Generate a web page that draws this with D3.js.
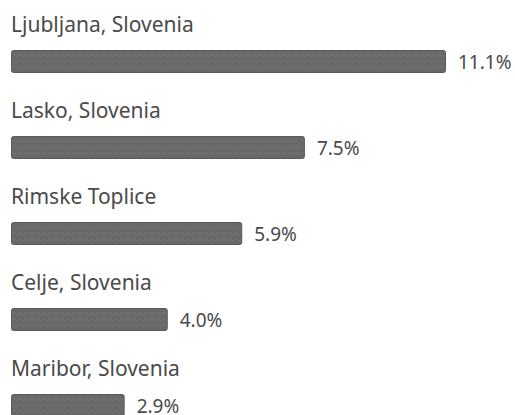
<!DOCTYPE html>
<html>
<head>
<meta charset="utf-8">
<script src="https://cdn.jsdelivr.net/npm/d3@7"></script>
<style>
  body { margin: 0; background: #fff; }
  svg { display: block; }
</style>
</head>
<body>
<svg id="chart"></svg>
<script>
// Data
const cities = ["Ljubljana, Slovenia", "Lasko, Slovenia", "Rimske Toplice", "Celje, Slovenia", "Maribor, Slovenia"];
const shares = [11.1, 7.5, 5.9, 4.0, 2.9];
const valueLabels = ["11.1%", "7.5%", "5.9%", "4.0%", "2.9%"];

const width = 515, height = 415;
const margin = { left: 11, top: 0 };
const rowStep = 86;

const svg = d3.select("#chart").attr("width", width).attr("height", height);

// subtle texture like the scanned bars
const pat = svg.append("defs").append("pattern")
  .attr("id", "tex")
  .attr("patternUnits", "userSpaceOnUse")
  .attr("width", 6).attr("height", 6);
pat.append("rect").attr("width", 6).attr("height", 6).attr("fill", "#686868");
pat.append("path").attr("d", "M0,3 L3,0 L6,3").attr("fill", "none")
  .attr("stroke", "#757575").attr("stroke-width", 1);

// x scale: largest bar ends near x = 446
const x = d3.scaleLinear().domain([0, d3.max(shares)]).range([0, 435]);

// row positions
const y = d3.scaleBand().domain(cities).range([0, rowStep * cities.length]).paddingInner(0);

const rows = svg.selectAll("g.row")
  .data(cities.map((c, i) => ({ city: c, value: shares[i], label: valueLabels[i] })))
  .join("g")
  .attr("class", "row")
  .attr("transform", d => `translate(${margin.left}, ${margin.top + y(d.city)})`);

rows.append("text")
  .attr("x", 0)
  .attr("y", 32)
  .attr("fill", "#4a4a4a")
  .style("font-family", "'Noto Sans', sans-serif")
  .style("font-size", "21px")
  .text(d => d.city);

rows.append("rect")
  .attr("x", 0.5)
  .attr("y", 50.5)
  .attr("width", d => x(d.value) - 1)
  .attr("height", 22)
  .attr("rx", 2)
  .attr("fill", "url(#tex)")
  .attr("stroke", "#595959")
  .attr("stroke-width", 1);

rows.append("text")
  .attr("x", d => x(d.value) + 12)
  .attr("y", 69)
  .attr("fill", "#4a4a4a")
  .style("font-family", "'Noto Sans', sans-serif")
  .style("font-size", "19px")
  .text(d => d.label);
</script>
</body>
</html>
